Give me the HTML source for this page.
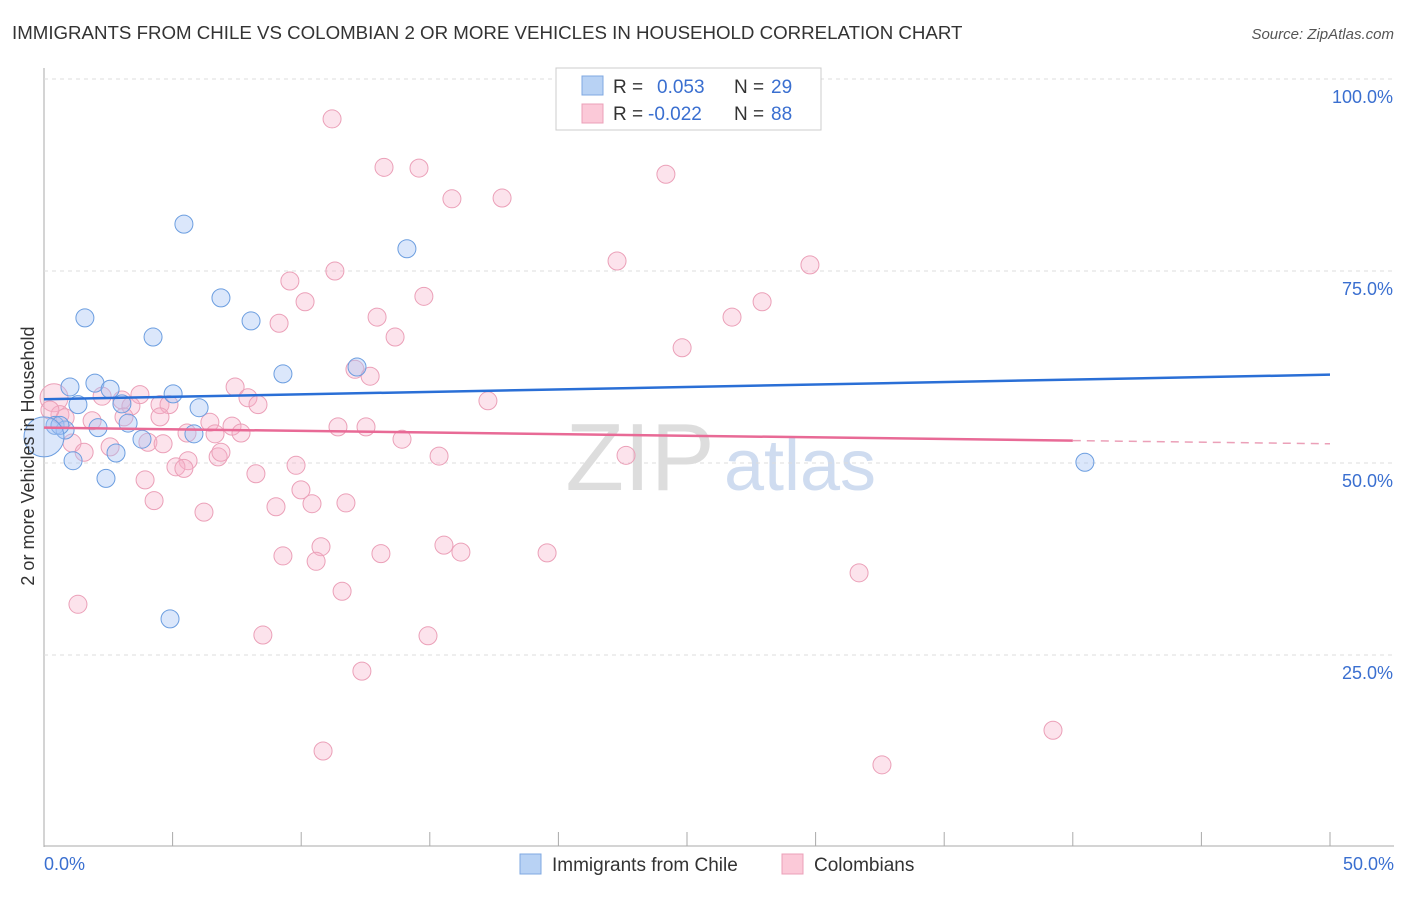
<!DOCTYPE html>
<html><head><meta charset="utf-8"><style>
body{margin:0;background:#fff;font-family:"Liberation Sans",sans-serif;}
svg text{font-family:"Liberation Sans",sans-serif;}
</style></head><body>
<svg id="c" width="1406" height="892">
<text x="12" y="39" font-size="18.7" fill="#333">IMMIGRANTS FROM CHILE VS COLOMBIAN 2 OR MORE VEHICLES IN HOUSEHOLD CORRELATION CHART</text>
<text x="1394" y="39" font-size="15" fill="#555" text-anchor="end" font-style="italic">Source: ZipAtlas.com</text>
<text x="640" y="490" font-size="96" fill="#ddd" font-family="Liberation Serif" text-anchor="middle">ZIP</text>
<text x="800" y="490" font-size="72" fill="#cfdcf0" text-anchor="middle">atlas</text>
<g id="grid"></g><g id="marks"></g>
<text transform="translate(34,456) rotate(-90)" font-size="18" fill="#333" text-anchor="middle">2 or more Vehicles in Household</text>
<g>
<rect x="556" y="68" width="265" height="62" fill="#fff" stroke="#ccc"/>
<rect x="582" y="76" width="21" height="19" fill="#b8d2f4" stroke="#7fa8e2"/>
<rect x="582" y="104" width="21" height="19" fill="#fbc9d8" stroke="#eba0b8"/>
<text x="613" y="93" font-size="19" fill="#333">R =</text><text x="657" y="93" font-size="19" fill="#3a6fd0">0.053</text>
<text x="734" y="93" font-size="19" fill="#333">N =</text><text x="771" y="93" font-size="19" fill="#3a6fd0">29</text>
<text x="613" y="120" font-size="19" fill="#333">R =</text><text x="648" y="120" font-size="19" fill="#3a6fd0">-0.022</text>
<text x="734" y="120" font-size="19" fill="#333">N =</text><text x="771" y="120" font-size="19" fill="#3a6fd0">88</text>
</g>
<g>
<rect x="520" y="854" width="21" height="20" fill="#b8d2f4" stroke="#7fa8e2"/>
<text x="552" y="871" font-size="19" fill="#333">Immigrants from Chile</text>
<rect x="782" y="854" width="21" height="20" fill="#fbc9d8" stroke="#eba0b8"/>
<text x="814" y="871" font-size="19" fill="#333">Colombians</text>
</g>
</svg>
<script>
const xTicks=[0,5,10,15,20,25,30,35,40,45,50];
const yTicks=[25,50,75,100];
const chileX=[1.01,1.59,1.98,2.57,1.32,0.43,0.82,2.10,1.13,2.41,2.80,3.03,3.27,3.81,4.24,5.02,5.44,6.03,5.83,6.88,8.05,9.29,12.17,14.11,4.90,40.47,0.62,0];
const chileY=[59.9,68.9,60.4,59.6,57.6,54.9,54.3,54.6,50.3,48.0,51.3,57.7,55.2,53.1,66.4,59.0,81.1,57.2,53.8,71.5,68.5,61.6,62.5,77.9,29.7,50.1,54.9,53.4];
const colX=[11.20,13.22,14.58,15.86,17.81,24.18,22.28,11.31,9.56,10.15,14.77,12.95,9.14,13.65,26.75,27.92,29.78,24.81,12.09,12.68,17.26,7.43,7.93,8.32,3.73,4.51,2.26,3.03,3.38,4.86,0.39,0.62,0.82,1.87,3.11,4.51,6.45,7.31,11.43,12.52,5.56,6.65,7.66,13.92,2.57,1.09,1.56,4.04,4.63,6.77,6.88,22.63,15.36,5.60,5.13,5.44,9.80,8.24,3.93,9.99,4.28,10.42,11.74,6.22,9.02,15.55,10.77,16.21,19.56,13.10,9.29,10.58,31.69,11.59,1.32,8.51,14.93,12.36,10.85,39.23,32.58,0.23];
const colY=[94.8,88.5,88.4,84.4,84.5,87.6,76.3,75.0,73.7,71.0,71.7,69.0,68.2,66.4,69.0,71.0,75.8,65.0,62.2,61.3,58.1,59.9,58.5,57.6,58.9,57.6,58.7,58.2,57.4,57.6,58.5,56.3,55.9,55.5,56.0,56.0,55.3,54.8,54.7,54.7,53.9,53.8,53.9,53.1,52.1,52.6,51.4,52.7,52.5,50.8,51.4,51.0,50.9,50.3,49.5,49.3,49.7,48.6,47.8,46.5,45.1,44.7,44.8,43.6,44.3,39.3,39.1,38.4,38.3,38.2,37.9,37.2,35.7,33.3,31.6,27.6,27.5,22.9,12.5,15.2,10.7,56.9];
const chileTrend=[58.3,61.5];
const colTrend=[54.6,52.5];
const X=v=>44+v/50*1286, Y=v=>847-v*7.68;
const NS='http://www.w3.org/2000/svg';
const g=document.getElementById('grid'), m=document.getElementById('marks');
function el(t,a,p){const e=document.createElementNS(NS,t);for(const k in a)e.setAttribute(k,a[k]);p.appendChild(e);return e;}
let ax=el('line',{x1:44,y1:68,x2:44,y2:847,stroke:'#aaa'},g);


let bx=el('line',{x1:44,y1:846,x2:1394,y2:846,stroke:'#aaa'},g);


yTicks.forEach(t=>{
 let l=el('line',{x1:44,x2:1394,y1:Y(t),y2:Y(t),stroke:'#ddd','stroke-dasharray':'4,4'},g);
 
 
 let tx=el('text',{x:1393,y:Y(t)+24,'font-size':18,fill:'#3a6fd0','text-anchor':'end'},g);
 tx.textContent=t.toFixed(1)+'%';
 
 
});
xTicks.forEach(t=>{
 let l=el('line',{x1:X(t),x2:X(t),y1:832,y2:846,stroke:'#aaa'},g);
 
 
});
[[0,'start',44],[50,'end',1394]].forEach(([t,a,px])=>{
 let tx=el('text',{x:px,y:870,'font-size':18,fill:'#3a6fd0','text-anchor':a},g);
 tx.textContent=t.toFixed(1)+'%';
 
 
});
colX.forEach((x,i)=>{
 let c=el('circle',{cx:X(x),cy:Y(colY[i]),r:(i==30?14:9),fill:'rgba(247,176,200,0.35)',stroke:'#eba0b8','stroke-width':1},m);
 
 
});
chileX.forEach((x,i)=>{
 let c=el('circle',{cx:X(x),cy:Y(chileY[i]),r:(i==27?20:9),fill:'rgba(164,194,244,0.4)',stroke:'#6c9ee0','stroke-width':1},m);
 
 
});
let bl=el('line',{x1:X(0),y1:Y(chileTrend[0]),x2:X(50),y2:Y(chileTrend[1]),stroke:'#2a6fd6','stroke-width':2.5},m);


const cy40=colTrend[0]+(colTrend[1]-colTrend[0])*0.8;
let pl=el('line',{x1:X(0),y1:Y(colTrend[0]),x2:X(40),y2:Y(cy40),stroke:'#e86a96','stroke-width':2.5},m);


let pd=el('line',{x1:X(40),y1:Y(cy40),x2:X(50),y2:Y(colTrend[1]),stroke:'#eba0b8','stroke-width':1.5,'stroke-dasharray':'8,6'},m);


</script>
</body></html>
